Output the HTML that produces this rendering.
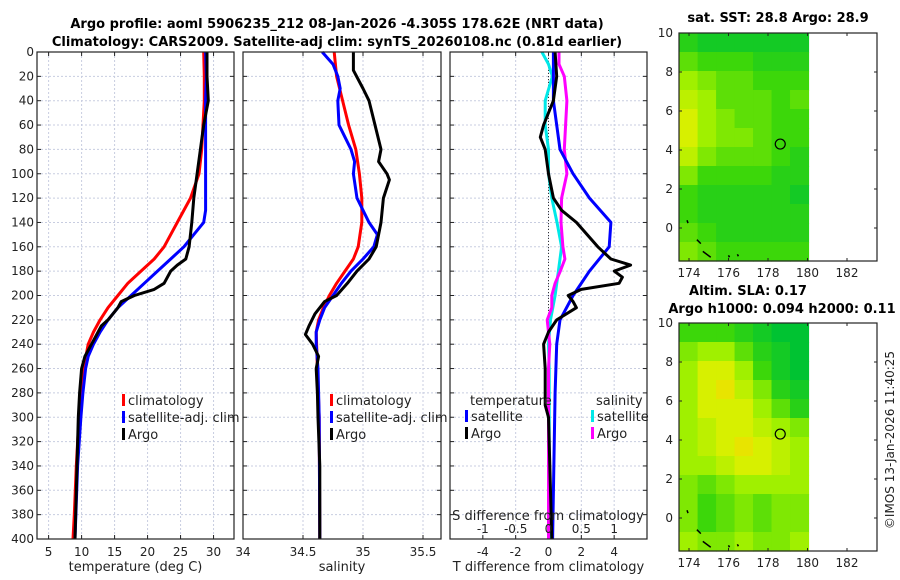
<!DOCTYPE html>
<html><head><meta charset="utf-8"><style>
html,body{margin:0;padding:0;background:#fff;}
svg{display:block;font-family:"DejaVu Sans","Liberation Sans",sans-serif;}
</style></head><body>
<svg id="fig" width="900" height="580" viewBox="0 0 900 580" xmlns="http://www.w3.org/2000/svg">
<rect width="900" height="580" fill="#fff"/>
<text x="337" y="28" font-size="13" font-weight="bold" text-anchor="middle">Argo profile: aoml 5906235_212 08-Jan-2026 -4.305S 178.62E (NRT data)</text>
<text x="337" y="46" font-size="13" font-weight="bold" text-anchor="middle">Climatology: CARS2009. Satellite-adj clim: synTS_20260108.nc (0.81d earlier)</text>
<text x="778" y="22" font-size="13" font-weight="bold" text-anchor="middle">sat. SST: 28.8 Argo: 28.9</text>
<text x="748" y="295" font-size="13" font-weight="bold" text-anchor="middle">Altim. SLA: 0.17</text>
<text x="782" y="313" font-size="13" font-weight="bold" text-anchor="middle">Argo h1000: 0.094 h2000: 0.11</text>
<text transform="translate(894,440) rotate(-90)" font-size="12" text-anchor="middle" fill="#222">©IMOS 13-Jan-2026 11:40:25</text>
<g id="plots"></g>
</svg>
<script>
// ---- data ----
const depths = [0,20,40,60,80,100,120,140,160,170,180,190,200,210,220,230,240,260,280,300,340,380,400];
const tempClim = [28.5,28.6,28.6,28.4,28.2,27.8,26.5,24.5,22.5,21,19,17,15.5,14,12.8,11.8,11,10.3,9.9,9.6,9.2,8.9,8.7];
const tempSatDepths = [0,20,40,100,130,140,150,160,170,180,190,200,210,220,230,240,250,260,280,300,340,400];
const tempSat = [28.8,28.9,28.8,28.8,28.8,28.5,27,25.5,23.5,21.5,19.5,17.5,15.5,14,12.8,11.8,11,10.6,10.2,9.9,9.4,9.0];
const tempArgoDepths = [0,20,40,60,80,100,120,140,160,170,175,180,190,195,200,205,210,220,225,230,240,250,260,280,300,340,400];
const tempArgo = [29,29,29.2,28.5,28,27.5,27,26.7,26.3,25.8,24.5,23.5,22.5,21,18,16,15.5,14,13,12.5,11.5,10.5,10,9.7,9.5,9.3,9.0];
const salClimDepths = [0,20,40,60,80,100,120,140,160,170,180,190,200,210,220,230,260,300,400];
const salClim = [34.76,34.78,34.83,34.88,34.94,34.97,34.99,34.99,34.96,34.92,34.85,34.78,34.72,34.67,34.63,34.61,34.62,34.635,34.64];
const salSatDepths = [0,10,20,30,40,60,70,80,90,100,120,140,150,160,170,180,190,200,210,220,230,240,260,300,400];
const salSat = [34.66,34.75,34.79,34.81,34.79,34.80,34.85,34.9,34.93,34.92,34.95,35.05,35.12,35.09,35.0,34.9,34.82,34.75,34.68,34.64,34.61,34.61,34.625,34.635,34.64];
const salArgoDepths = [0,15,30,40,60,80,90,100,105,120,140,160,170,180,190,200,205,215,225,232,240,250,260,280,300,340,400];
const salArgo = [34.92,34.92,35.0,35.05,35.1,35.15,35.13,35.2,35.22,35.17,35.15,35.11,35.05,34.95,34.87,34.78,34.68,34.6,34.55,34.52,34.58,34.63,34.61,34.62,34.625,34.64,34.64];
const dTSatDepths = [0,40,80,100,120,140,160,180,200,220,240,280,400];
const dTSat = [0.3,0.3,0.7,1.5,2.5,3.8,3.7,2.5,1.5,0.7,0.5,0.4,0.25];
const dTArgoDepths = [0,20,40,60,70,80,100,120,130,140,160,170,175,180,185,190,195,200,205,210,220,230,240,260,290,300,400];
const dTArgo = [0.4,0.5,0.3,-0.3,-0.5,-0.2,0,0.3,0.8,1.7,3.0,3.8,5.0,4.0,4.5,4.3,2,1.2,1.5,1.7,0.5,0,-0.3,-0.2,-0.2,0,0.2];
const dSSatDepths = [0,10,20,40,60,80,100,120,140,160,180,200,220,240,260,400];
const dSSat = [-0.1,0,0.06,-0.05,-0.05,0,0,0.05,0.13,0.2,0.15,0.1,0.03,0,0.01,0.01];
const dSArgoDepths = [0,10,20,40,60,80,100,120,140,160,170,180,190,200,210,220,230,240,260,300,400];
const dSArgo = [0.16,0.16,0.24,0.28,0.26,0.24,0.28,0.2,0.19,0.22,0.25,0.18,0.1,0.05,0.05,-0.02,0,0.02,0,0,0];
const depthTicks = [0,20,40,60,80,100,120,140,160,180,200,220,240,260,280,300,320,340,360,380,400];
const tempTicks = [5,10,15,20,25,30,35];
const salTicks = [34,34.5,35,35.5];
const dTTicks = [-4,-2,0,2,4];
const dSTicks = [-1,-0.5,0,0.5,1];
const dSTickLabels = ["-1","-0.5","0","0.5","1"];
const lonTicks = [174,176,178,180,182];
const latTicks = [0,2,4,6,8,10];
const sstGrid = [
[2,1,1,1,1,1,1],[4,3,3,3,2,2,2],[6,5,4,4,3,3,3],[7,6,4,4,4,3,4],
[8,6,5,4,4,3,3],[8,6,5,5,4,3,3],[7,5,4,4,4,3,2],[5,3,3,3,3,2,2],
[3,2,2,2,2,2,1],[3,2,2,2,2,2,2],[4,3,2,2,2,2,2],[5,4,3,3,3,3,3]];
const slaGrid = [
[3,3,3,2,1,0,0],[5,6,6,4,2,1,0],[6,8,8,6,3,1,0],[6,8,9,7,5,2,1],
[6,8,8,8,6,4,2],[6,7,8,8,7,6,5],[6,7,8,9,8,7,6],[6,6,7,8,8,7,6],
[5,4,5,6,6,6,6],[5,3,4,5,4,5,5],[5,3,4,5,4,5,5],[6,5,5,6,5,5,6]];
const argoLon = [178.62];
const argoLat = [4.305];

// ---- helpers ----
const NS = "http://www.w3.org/2000/svg";
const root = document.getElementById('plots');
function mk(tag, attrs, parent){const e=document.createElementNS(NS,tag);for(const k in attrs)e.setAttribute(k,attrs[k]);(parent||root).appendChild(e);return e;}
const Y0=52, Y1=539;
const yD = d => Y0 + d*(Y1-Y0)/400;

function panel(name, x0, x1, xmin, xmax, ticks, labels, showY, xlabel){
  const xs = v => x0 + (v-xmin)*(x1-x0)/(xmax-xmin);
  const g = mk('g',{});
  
  
  depthTicks.forEach(d=>{
    const l=mk('line',{x1:x0,x2:x1,y1:yD(d),y2:yD(d),stroke:'#c8cde0','stroke-width':1,'stroke-dasharray':'2,2'},g);
    
    
    mk('line',{x1:x0,x2:x0+4,y1:yD(d),y2:yD(d),stroke:'#222'},g);
    mk('line',{x1:x1-4,x2:x1,y1:yD(d),y2:yD(d),stroke:'#222'},g);
    if(showY){const t=mk('text',{x:x0-3,y:yD(d)+4,'font-size':12,'text-anchor':'end',fill:'#222'},g);t.textContent=d;
      
      }
  });
  ticks.forEach((v,i)=>{
    const X=xs(v); if(X<x0-0.5||X>x1+0.5) return;
    mk('line',{x1:X,x2:X,y1:Y0,y2:Y1,stroke:'#c8cde0','stroke-width':1,'stroke-dasharray':'2,2'},g);
    mk('line',{x1:X,x2:X,y1:Y1-4,y2:Y1,stroke:'#222'},g);
    mk('line',{x1:X,x2:X,y1:Y0,y2:Y0+4,stroke:'#222'},g);
  });
  ticks.forEach((v,i)=>{
    const X=xs(v); if(X<x0-0.5||X>x1+0.5) return;
    const t=mk('text',{x:X,y:556,'font-size':12,'text-anchor':'middle',fill:'#222'},g);t.textContent=labels[i];
    
    
  });
  const lab=mk('text',{x:(x0+x1)/2,y:571,'font-size':13,'text-anchor':'middle',fill:'#222'},g);lab.textContent=xlabel;
  
  
  return {xs,g,x0,x1};
}
function series(p, name, ds, vs, color, xs){
  const f = xs||p.xs;
  const pts = ds.map((d,i)=>f(vs[i]).toFixed(1)+','+yD(d).toFixed(1)).join(' ');
  const e=mk('polyline',{points:pts,fill:'none',stroke:color,'stroke-width':3,'stroke-linejoin':'round'},p.g);
  
  
}
function frame(p){mk('rect',{x:p.x0,y:Y0,width:p.x1-p.x0,height:Y1-Y0,fill:'none',stroke:'#222','stroke-width':1.2},p.g);}
function legend(p, x, y, items){
  items.forEach((it,i)=>{
    mk('rect',{x:x,y:y+i*17-11,width:3,height:12,fill:it[1]},p.g);
    const t=mk('text',{x:x+6,y:y+i*17,'font-size':13,fill:'#222'},p.g);t.textContent=it[0];
    
    
  });
}

// panel 1
const p1 = panel('temperature-panel',37,234,3.24,33.1,tempTicks,tempTicks.map(String),true,'temperature (deg C)');
series(p1,'temp-climatology-line',depths,tempClim,'#ff0000');
series(p1,'temp-satellite-line',tempSatDepths,tempSat,'#0000ff');
series(p1,'temp-argo-line',tempArgoDepths,tempArgo,'#000000');
legend(p1,122,405,[['climatology','#ff0000'],['satellite-adj. clim','#0000ff'],['Argo','#000']]);
frame(p1);

// panel 2
const p2 = panel('salinity-panel',243,441,34,35.65,salTicks,['34','34.5','35','35.5'],false,'salinity');
series(p2,'sal-climatology-line',salClimDepths,salClim,'#ff0000');
series(p2,'sal-satellite-line',salSatDepths,salSat,'#0000ff');
series(p2,'sal-argo-line',salArgoDepths,salArgo,'#000000');
legend(p2,330,405,[['climatology','#ff0000'],['satellite-adj. clim','#0000ff'],['Argo','#000']]);
frame(p2);

// panel 3
const p3 = panel('difference-panel',450,647,-6.0,6.0,dTTicks,dTTicks.map(String),false,'T difference from climatology');
const xsS = v => p3.xs(v*4);
mk('line',{x1:p3.xs(0),x2:p3.xs(0),y1:Y0,y2:Y1,stroke:'#333','stroke-width':1,'stroke-dasharray':'1,2'},p3.g);
series(p3,'dS-satellite-line',dSSatDepths,dSSat,'#00e8e8',xsS);
series(p3,'dS-argo-line',dSArgoDepths,dSArgo,'#ff00ff',xsS);
series(p3,'dT-satellite-line',dTSatDepths,dTSat,'#0000ff');
series(p3,'dT-argo-line',dTArgoDepths,dTArgo,'#000000');
{const t=mk('text',{x:470,y:405,'font-size':13,fill:'#222'},p3.g);t.textContent='temperature';
 
 
 const t2=mk('text',{x:596,y:405,'font-size':13,fill:'#222'},p3.g);t2.textContent='salinity';
 
 }
legend(p3,465,421,[['satellite','#0000ff'],['Argo','#000']]);
legend(p3,591,421,[['satellite','#00e8e8'],['Argo','#ff00ff']]);
{const t=mk('text',{x:548,y:520,'font-size':13,'text-anchor':'middle',fill:'#222'},p3.g);t.textContent='S difference from climatology';
 
 
 dSTicks.forEach((v,i)=>{const e=mk('text',{x:xsS(v),y:533,'font-size':12,'text-anchor':'middle',fill:'#222'},p3.g);e.textContent=dSTickLabels[i];
   
   });}
frame(p3);

// maps
const stops=[[0,[0,195,50]],[3,[60,215,10]],[6,[160,240,0]],[8,[215,240,0]],[9,[232,228,0]]];
function cmap(v){for(let i=1;i<stops.length;i++){if(v<=stops[i][0]){const a=stops[i-1],b=stops[i];const t=(v-a[0])/(b[0]-a[0]);return 'rgb('+a[1].map((c,k)=>Math.round(c+(b[1][k]-c)*t)).join(',')+')';}}return 'rgb(232,228,0)';}
function map(name, top, bottom, lat0y, grid){
  const bx0=679,bx1=877;
  const xL = lon => 689 + (lon-174)*19.75;
  const yL = lat => lat0y - lat*19.5;
  const g=mk('g',{});
  
  
  const lonA=173.5, lonB=180.05, latT=(lat0y-top)/19.5, latB=(lat0y-bottom)/19.5;
  const nr=grid.length, nc=grid[0].length;
  for(let r=0;r<nr;r++)for(let c=0;c<nc;c++){
    const la1=latT-(latT-latB)*r/nr, la2=latT-(latT-latB)*(r+1)/nr;
    const lo1=lonA+(lonB-lonA)*c/nc, lo2=lonA+(lonB-lonA)*(c+1)/nc;
    const e=mk('rect',{x:xL(lo1),y:yL(la1),width:xL(lo2)-xL(lo1)+0.6,height:yL(la2)-yL(la1)+0.6,fill:cmap(grid[r][c])},g);
    
    
  }
  mk('rect',{x:bx0,y:top,width:bx1-bx0,height:bottom-top,fill:'none',stroke:'#222','stroke-width':1.2},g);
  lonTicks.forEach(v=>{const X=xL(v);mk('line',{x1:X,x2:X,y1:bottom-3,y2:bottom,stroke:'#222'},g);mk('line',{x1:X,x2:X,y1:top,y2:top+3,stroke:'#222'},g);
    const t=mk('text',{x:X,y:bottom+16,'font-size':12,'text-anchor':'middle',fill:'#222'},g);t.textContent=v;
    
    });
  latTicks.forEach(v=>{const Y=yL(v);mk('line',{x1:bx0,x2:bx0+3,y1:Y,y2:Y,stroke:'#222'},g);mk('line',{x1:bx1-3,x2:bx1,y1:Y,y2:Y,stroke:'#222'},g);
    const t=mk('text',{x:bx0-6,y:Y+4,'font-size':12,'text-anchor':'end',fill:'#222'},g);t.textContent=v;
    
    });
  const cl=[[173.9,0.4,173.95,0.25],[174.4,-0.6,174.6,-0.8],[174.7,-1.2,175.1,-1.5],[176,-1.4,176.05,-1.5],[176.45,-1.35,176.5,-1.45]];
  cl.forEach(s=>mk('line',{x1:xL(s[0]),y1:yL(s[1]),x2:xL(s[2]),y2:yL(s[3]),stroke:'#000','stroke-width':1.5},g));
  const c=mk('circle',{cx:xL(argoLon[0]),cy:yL(argoLat[0]),r:5,fill:'none',stroke:'#000','stroke-width':1.2},g);
  
  
}
map('sst-map',33,261,228,sstGrid);
map('sla-map',323,551,518,slaGrid);
</script>
</body></html>
